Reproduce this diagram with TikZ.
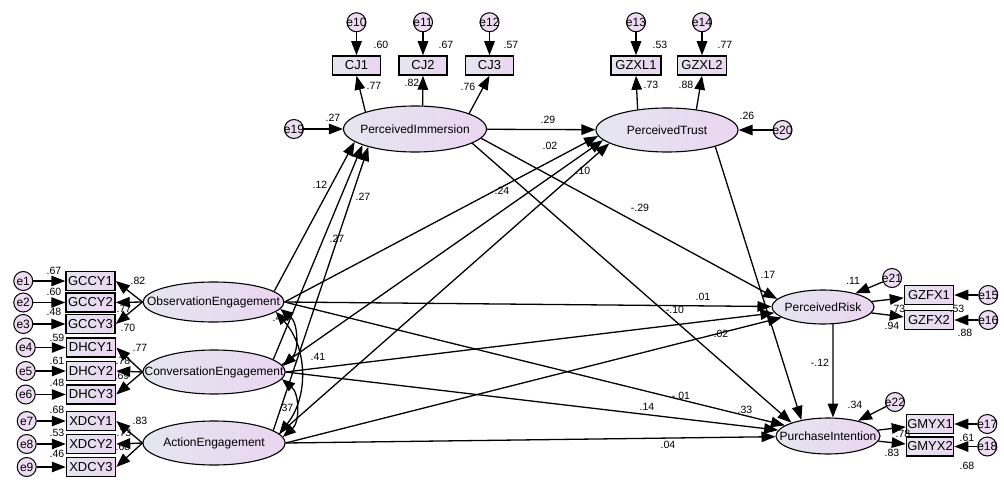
\documentclass[tikz,border=0pt]{standalone}
\usepackage{fontspec}
\setmainfont{Liberation Sans}
\usetikzlibrary{positioning,arrows.meta,shapes.geometric}

\definecolor{shadeL}{HTML}{E4E6F0}
\definecolor{shadeR}{HTML}{EBD5F0}
\definecolor{errfill}{HTML}{EDDCF2}

\begin{document}
\begin{tikzpicture}[
    x=1pt, y=-1pt,
    font=\fontsize{12}{14}\selectfont,
    latent/.style={draw, ellipse, line width=1.1pt, left color=shadeL, right color=shadeR, inner sep=0pt},
    obs_box/.style={draw, rectangle, line width=1.5pt, left color=shadeL, right color=shadeR, minimum width=49pt, minimum height=19pt, inner sep=0pt, font=\fontsize{13}{13}\selectfont},
    err/.style={draw, circle, line width=1pt, fill=errfill, minimum size=19pt, inner sep=0pt, font=\fontsize{12.5}{13}\selectfont},
    est/.style={font=\fontsize{10.5}{11}\selectfont, inner sep=0pt},
    arrow/.style={-{Triangle[length=14pt,width=10.5pt]}, line width=1.3pt},
    covarrow/.style={{Triangle[length=13pt,width=10pt]}-{Triangle[length=13pt,width=10pt]}, line width=1.3pt}
]
\path[fill=white] (0,0) rectangle (1004,487);
\useasboundingbox (0,0) rectangle (1004,487);

% Latent variables
\node[latent, minimum width=141pt, minimum height=40pt, label=center:ObservationEngagement] (Obs) at (213.5,302) {};
\node[latent, minimum width=142pt, minimum height=44pt, label=center:ConversationEngagement] (Conv) at (214,372) {};
\node[latent, minimum width=142pt, minimum height=44pt, label=center:ActionEngagement] (Act) at (214,443) {};
\node[latent, minimum width=143pt, minimum height=46pt, label=center:PerceivedImmersion] (PI) at (415,129) {};
\node[latent, minimum width=142pt, minimum height=44pt, label=center:PerceivedTrust] (PT) at (667,130) {};
\node[latent, minimum width=102pt, minimum height=34pt, label=center:PerceivedRisk] (PR) at (823,307) {};
\node[latent, minimum width=104pt, minimum height=36pt, label=center:PurchaseIntention] (PurI) at (828,436) {};

% Indicators
\node[obs_box] (GCCY1) at (90.5,281) {GCCY1};
\node[obs_box, below=1pt of GCCY1] (GCCY2) {GCCY2};
\node[obs_box, below=1pt of GCCY2] (GCCY3) {GCCY3};
\node[obs_box] (DHCY1) at (91,347.5) {DHCY1};
\node[obs_box, below=3pt of DHCY1] (DHCY2) {DHCY2};
\node[obs_box, below=3pt of DHCY2] (DHCY3) {DHCY3};
\node[obs_box] (XDCY1) at (91,421) {XDCY1};
\node[obs_box, below=2.5pt of XDCY1] (XDCY2) {XDCY2};
\node[obs_box, below=2.5pt of XDCY2] (XDCY3) {XDCY3};
\node[obs_box, minimum width=48pt] (CJ1) at (356.5,65.5) {CJ1};
\node[obs_box, minimum width=48pt, right=17pt of CJ1] (CJ2) {CJ2};
\node[obs_box, minimum width=48pt, right=17pt of CJ2] (CJ3) {CJ3};
\node[obs_box, minimum width=50pt] (GZXL1) at (636,65.5) {GZXL1};
\node[obs_box, right=15pt of GZXL1] (GZXL2) {GZXL2};
\node[obs_box] (GZFX1) at (929,295) {GZFX1};
\node[obs_box, below=4.5pt of GZFX1] (GZFX2) {GZFX2};
\node[obs_box, minimum width=47pt] (GMYX1) at (930,424) {GMYX1};
\node[obs_box, minimum width=47pt, below=2pt of GMYX1] (GMYX2) {GMYX2};

% Error terms
\node[err, left=32pt of GCCY1, label=center:e1] (e1) {};
\node[err, left=32pt of GCCY2, label=center:e2] (e2) {};
\node[err, left=32pt of GCCY3, label=center:e3] (e3) {};
\node[err, left=30pt of DHCY1, label=center:e4] (e4) {};
\node[err, left=30pt of DHCY2, label=center:e5] (e5) {};
\node[err, left=30pt of DHCY3, label=center:e6] (e6) {};
\node[err, left=29pt of XDCY1, label=center:e7] (e7) {};
\node[err, left=29pt of XDCY2, label=center:e8] (e8) {};
\node[err, left=29pt of XDCY3, label=center:e9] (e9) {};
\node[err, above=23pt of CJ1, label=center:e10] (e10) {};
\node[err, above=23pt of CJ2, label=center:e11] (e11) {};
\node[err, above=23pt of CJ3, label=center:e12] (e12) {};
\node[err, above=23pt of GZXL1, label=center:e13] (e13) {};
\node[err, above=23pt of GZXL2, label=center:e14] (e14) {};
\node[err, right=24pt of GZFX1, label=center:e15] (e15) {};
\node[err, right=24pt of GZFX2, label=center:e16] (e16) {};
\node[err, right=23pt of GMYX1, label=center:e17] (e17) {};
\node[err, right=23pt of GMYX2, label=center:e18] (e18) {};
\node[err, left=39pt of PI, label=center:e19] (e19) {};
\node[err, right=34pt of PT, label=center:e20] (e20) {};
\node[err, label=center:e21] (e21) at (892,278) {};
\node[err, label=center:e22] (e22) at (895,402) {};

% Measurement part
\foreach \e/\v in {e1/GCCY1, e2/GCCY2, e3/GCCY3, e4/DHCY1, e5/DHCY2, e6/DHCY3, e7/XDCY1, e8/XDCY2, e9/XDCY3,
    e10/CJ1, e11/CJ2, e12/CJ3, e13/GZXL1, e14/GZXL2, e15/GZFX1, e16/GZFX2, e17/GMYX1, e18/GMYX2}
    \draw[arrow] (\e) -- (\v);
\foreach \v in {GCCY1, GCCY2, GCCY3} \draw[arrow] (Obs.west) -- (\v.east);
\foreach \v in {DHCY1, DHCY2, DHCY3} \draw[arrow] (Conv.west) -- (\v.east);
\foreach \v in {XDCY1, XDCY2, XDCY3} \draw[arrow] (Act.west) -- (\v.east);
\draw[arrow] (PI.161) -- (CJ1.south);
\draw[arrow] (PI.72) -- (CJ2.south);
\draw[arrow] (PI.16) -- (CJ3.south);
\draw[arrow] (PT.145) -- (GZXL1.south);
\draw[arrow] (PT.35) -- (GZXL2.south);
\draw[arrow] (PR) -- (GZFX1);
\draw[arrow] (PR) -- (GZFX2);
\draw[arrow] (PurI) -- (GMYX1);
\draw[arrow] (PurI) -- (GMYX2);

% Structural part
\draw[arrow] (e19) -- (PI);
\draw[arrow] (e20) -- (PT);
\draw[arrow] (e21) -- (PR);
\draw[arrow] (e22) -- (PurI);
\draw[arrow] (PI) -- (PT);
\draw[arrow] (PI.-8) -- (PR.170);
\draw[arrow] (PI.-14) -- (PurI.160);
\draw[arrow] (PT.-19) -- (PurI.149);
\draw[arrow] (PR.-60) -- (PurI.75);
\draw[arrow] (Obs.10) -- (PI.192);
\draw[arrow] (Conv.12) -- (PI.197);
\draw[arrow] (Act.12) -- (PI.201);
\draw[arrow] (Obs.east) -- (PT.185);
\draw[arrow] (Conv.6) -- (PT.189);
\draw[arrow] (Act.8) -- (PT.193);
\foreach \s in {Obs, Conv, Act} {
    \draw[arrow] (\s.east) -- (PR);
    \draw[arrow] (\s.east) -- (PurI);
}

% Covariances
\draw[covarrow] (Obs.-6) to[bend left=50] (Conv.5);
\draw[covarrow] (Obs.-9) to[bend left=40] (Act.8);
\draw[covarrow] (Conv.-6) to[bend left=50] (Act.5);

% Estimates
\foreach \x/\y/\v [count=\i] in {54/271/.67, 54/292/.60, 54/312/.48, 138/281/.82, 124/309/.77, 128/328/.70,
    57/338/.59, 140/348/.77, 123/361/.78, 57/361/.61, 122/376/.69, 57/383/.48,
    57/410/.68, 140/421/.83, 124/433/.73, 57/433/.53, 123/447/.68, 57/454/.46,
    280/318/.41, 286/408/.37, 318/357/.41,
    381/45/.60, 446/45/.67, 511/45/.57, 374/86/.77, 412/83/.82, 468/87/.76, 333/118/.27,
    660/45/.53, 725/45/.77, 651/85/.73, 686/85/.88, 747/116/.26,
    548/120/.29, 550/146/.02, 320/185/.12, 363/197/.27, 337/239/.27, 502/191/.24, 583/171/.10, 640/208/-.29,
    703/297/.01, 675/310/-.10, 721/334/.02, 681/396/-.01, 647/407/.14, 745/410/.33, 668/445/.04,
    768/275/.17, 853/281/.11, 898/309/.73, 957/309/.53, 892/326/.94, 965/333/.88, 820/363/-.12,
    855/405/.34, 903/434/.78, 967/438/.61, 892/453/.83, 967/466/.68}
    \node[est] (est\i) at (\x,\y) {\v};

\end{tikzpicture}
\end{document}
